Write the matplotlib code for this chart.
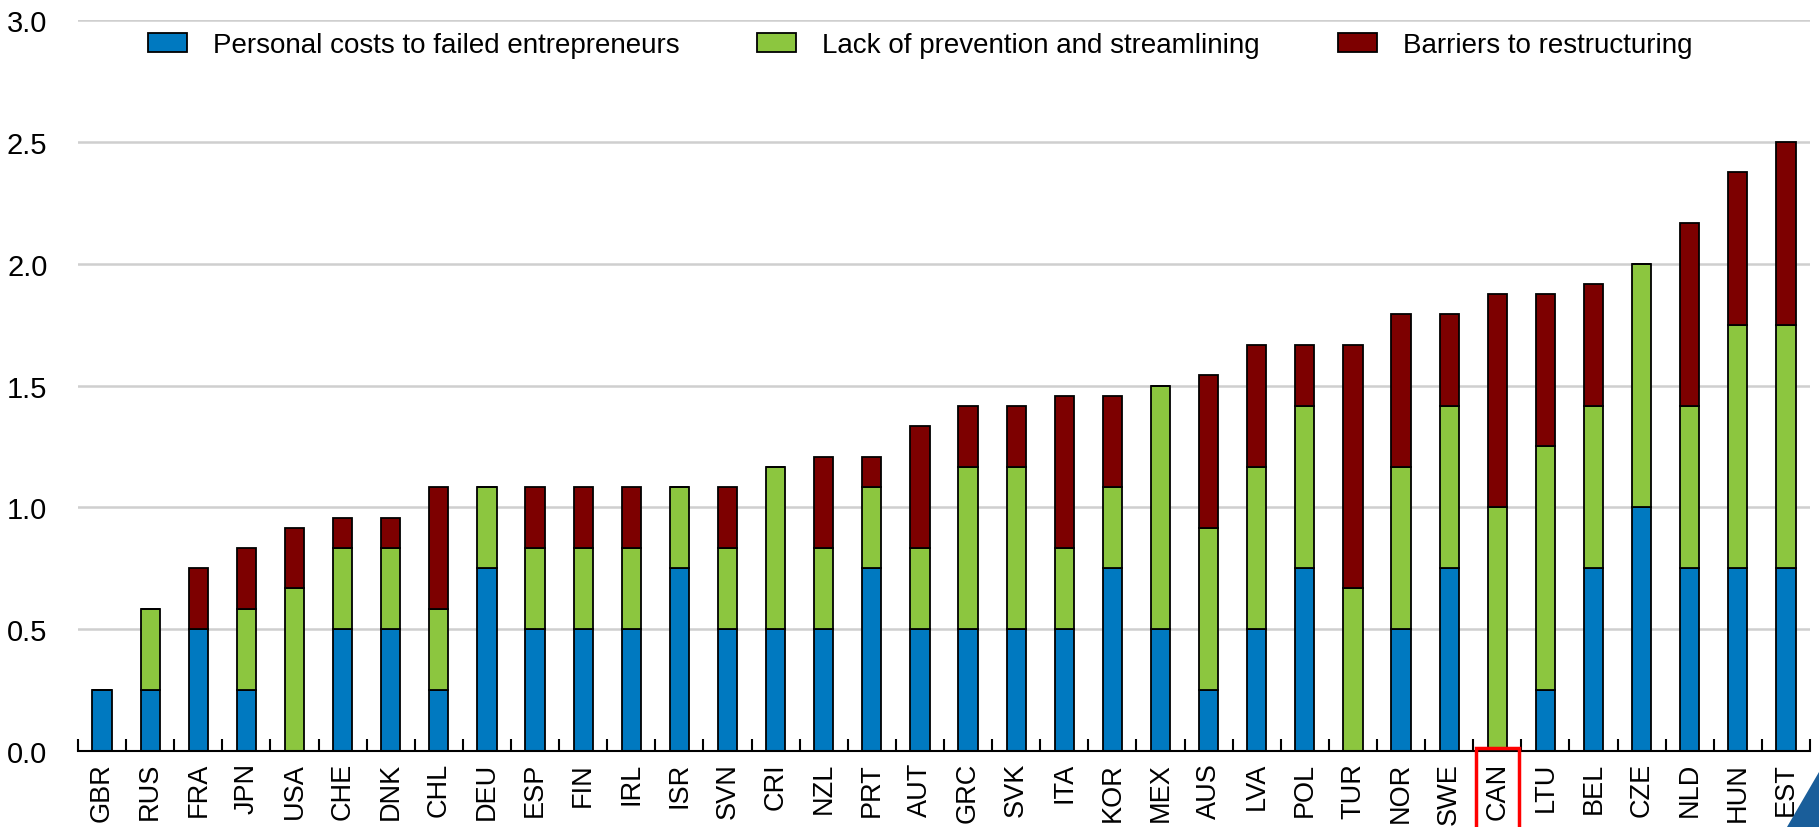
import matplotlib
matplotlib.use("Agg")
import matplotlib.pyplot as plt
import numpy as np
from matplotlib.patches import Rectangle, Polygon
import matplotlib.transforms as mtransforms

plt.rcParams['font.family'] = ['Liberation Sans', 'DejaVu Sans']

countries = ["GBR", "RUS", "FRA", "JPN", "USA", "CHE", "DNK", "CHL", "DEU", "ESP",
             "FIN", "IRL", "ISR", "SVN", "CRI", "NZL", "PRT", "AUT", "GRC", "SVK",
             "ITA", "KOR", "MEX", "AUS", "LVA", "POL", "TUR", "NOR", "SWE", "CAN",
             "LTU", "BEL", "CZE", "NLD", "HUN", "EST"]
personal = [0.25, 0.25, 0.5, 0.25, 0.0, 0.5, 0.5, 0.25, 0.75, 0.5,
            0.5, 0.5, 0.75, 0.5, 0.5, 0.5, 0.75, 0.5, 0.5, 0.5,
            0.5, 0.75, 0.5, 0.25, 0.5, 0.75, 0.0, 0.5, 0.75, 0.0,
            0.25, 0.75, 1.0, 0.75, 0.75, 0.75]
prevention = [0.0, 0.333, 0.0, 0.333, 0.667, 0.333, 0.333, 0.333, 0.333, 0.333,
              0.333, 0.333, 0.333, 0.333, 0.667, 0.333, 0.333, 0.333, 0.667, 0.667,
              0.333, 0.333, 1.0, 0.667, 0.667, 0.667, 0.667, 0.667, 0.667, 1.0,
              1.0, 0.667, 1.0, 0.667, 1.0, 1.0]
restructuring = [0.0, 0.0, 0.25, 0.25, 0.25, 0.125, 0.125, 0.5, 0.0, 0.25,
                 0.25, 0.25, 0.0, 0.25, 0.0, 0.375, 0.125, 0.5, 0.25, 0.25,
                 0.625, 0.375, 0.0, 0.625, 0.5, 0.25, 1.0, 0.625, 0.375, 0.875,
                 0.625, 0.5, 0.0, 0.75, 0.625, 0.75]
series_names = ["Personal costs to failed entrepreneurs",
                "Lack of prevention and streamlining",
                "Barriers to restructuring"]
yticks = [0.0, 0.5, 1.0, 1.5, 2.0, 2.5, 3.0]
highlight = "CAN"

colors = ["#0079C0", "#8CC63F", "#7D0000"]

fig = plt.figure(figsize=(18.19, 8.28), dpi=100)
ax = fig.add_axes([78/1819, 1-752/828, (1810-78)/1819, (752-21)/828])

x = np.arange(len(countries))
p = np.array(personal)
g = np.array(prevention)
r = np.array(restructuring)
w = 0.4
kw = dict(width=w, edgecolor="black", linewidth=1.3, zorder=3)
ax.bar(x, p, color=colors[0], label=series_names[0], **kw)
ax.bar(x, g, bottom=p, color=colors[1], label=series_names[1], **kw)
ax.bar(x, r, bottom=p + g, color=colors[2], label=series_names[2], **kw)

ax.set_xlim(-0.5, len(countries) - 0.5)
ax.set_ylim(0, 3.0)
ax.set_yticks(yticks)
ax.set_yticklabels([f"{v:.1f}" for v in yticks], fontsize=21)
ax.yaxis.grid(True, color="#CFCFCF", linewidth=1.8, zorder=0)
ax.set_axisbelow(True)
ax.tick_params(axis="y", length=0, pad=22)

ax.set_xticks(x)
ax.set_xticklabels(countries, rotation=90, fontsize=19.5)
ax.tick_params(axis="x", which="major", length=0, pad=8)
ax.set_xticks(np.arange(-0.5, len(countries), 1.0), minor=True)
ax.tick_params(axis="x", which="minor", direction="in", length=9, width=1.5, color="black")

for s in ["left", "right", "top"]:
    ax.spines[s].set_visible(False)
ax.spines["bottom"].set_linewidth(1.5)
ax.spines["bottom"].set_zorder(4)

# red box around highlighted country label
idx = countries.index(highlight)
trans = mtransforms.blended_transform_factory(ax.transData, ax.transAxes)
ax.add_patch(Rectangle((idx - 0.45, -0.12), 0.9, 0.124, transform=trans,
                       fill=False, edgecolor="#FF0000", linewidth=2.5, clip_on=False, zorder=5))

leg = ax.legend(loc="center left", bbox_to_anchor=((148 - 78) / 1732, 1 - (46 - 21) / 731),
                ncol=3, frameon=False, fontsize=20, handlelength=1.4, handleheight=0.68,
                handletextpad=0.94, columnspacing=2.8, borderpad=0, borderaxespad=0)

# corner logo triangle
fig.patches.append(Polygon([[1787/1819, 0], [1.0, 0], [1.0, 1 - 773/828]], closed=True,
                           transform=fig.transFigure, facecolor="#1A5E9A", edgecolor="none"))

fig.savefig("out.png", dpi=100)
